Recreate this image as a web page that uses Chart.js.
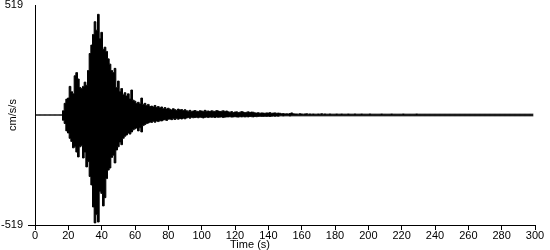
<!DOCTYPE html>
<html>
<head>
<meta charset="utf-8">
<script src="https://cdn.jsdelivr.net/npm/chart.js@4.4.0/dist/chart.umd.min.js"></script>
<style>
  html, body { margin: 0; padding: 0; background: #fff; }
  canvas { display: block; }
</style>
</head>
<body>
<canvas id="accelChart" width="550" height="250"></canvas>
<script>
// peak acceleration per second (cm/s/s): upper and lower envelope
const accelTop = [
  0,0,0,0,0,0,0,0,0,0,0,0,0,0,0,0,0,
  20,55,75,80,135,110,100,185,200,170,
  130,125,135,155,140,210,290,330,380,440,
  400,475,360,390,310,320,300,265,240,210,
  200,220,130,160,110,125,95,105,90,100,
  75,118,70,65,55,60,52,80,50,55,
  45,50,40,42,38,45,36,40,33,38,
  30,35,28,32,27,24,30,25,22,28,
  24,26,21,25,20,18,22,17,19,21,
  18,16,20,19,17,22,18,19,16,20,
  18,17,21,19,16,18,20,17,19,15,
  13,16,12,14,15,12,13,16,14,11,
  13,15,12,14,13,10,9,11,8,10,
  9,8,10,9,11,8,9,10,8,9,
  8,6,7,5,6,5,7,10,6,5,
  5,4,6,5,4,5,6,4,5,4,
  5,4,4,5,4,6,4,5,4,4,
  5,4,4,4,5,4,4,5,4,4,
  4,5,4,4,4,5,4,4,4,5,
  4,4,4,4,5,4,4,4,4,4,
  4,5,4,4,4,4,4,5,4,4,
  4,4,4,4,5,4,4,4,4,4,
  4,4,5,4,4,4,4,4,4,4,
  4,4,4,4,4,4,4,4,4,4,
  4,4,4,4,4,4,4,4,4,4,
  4,4,4,4,4,4,4,4,4,4,
  4,4,4,4,4,4,4,4,4,4,
  4,4,4,4,4,4,4,4,4,4,
  4,4,4,4,4,4,4,4,4,4,
  4,4,4
];
const accelBottom = [
  0,0,0,0,0,0,0,0,0,0,0,0,0,0,0,0,0,
  -25,-40,-75,-85,-110,-125,-155,-150,-175,-198,
  -150,-145,-203,-175,-245,-220,-290,-330,-434,-509,
  -470,-505,-360,-370,-429,-390,-300,-260,-250,-200,
  -190,-226,-165,-150,-127,-140,-110,-100,-94,-85,
  -90,-80,-70,-65,-61,-75,-60,-80,-50,-45,
  -40,-38,-33,-35,-30,-34,-28,-31,-27,-28,
  -24,-22,-26,-20,-19,-22,-18,-21,-17,-20,
  -16,-19,-15,-18,-14,-12,-15,-11,-13,-12,
  -11,-13,-10,-12,-14,-11,-10,-12,-9,-11,
  -10,-12,-9,-11,-10,-9,-12,-10,-9,-9,
  -8,-10,-9,-8,-9,-10,-8,-9,-8,-9,
  -8,-9,-7,-8,-9,-7,-8,-7,-6,-7,
  -7,-6,-7,-6,-7,-6,-5,-6,-5,-6,
  -4,-4,-5,-4,-4,-4,-5,-4,-4,-4,
  -4,-4,-4,-4,-4,-4,-4,-4,-4,-4,
  -4,-4,-4,-4,-4,-4,-4,-4,-4,-4,
  -4,-4,-4,-4,-4,-4,-4,-4,-4,-4,
  -4,-4,-4,-4,-4,-4,-4,-4,-4,-4,
  -4,-4,-4,-4,-4,-4,-4,-4,-4,-4,
  -4,-4,-4,-4,-4,-4,-4,-4,-4,-4,
  -4,-4,-4,-4,-4,-4,-4,-4,-4,-4,
  -4,-4,-4,-4,-4,-4,-4,-4,-4,-4,
  -4,-4,-4,-4,-4,-4,-4,-4,-4,-4,
  -4,-4,-4,-4,-4,-4,-4,-4,-4,-4,
  -4,-4,-4,-4,-4,-4,-4,-4,-4,-4,
  -4,-4,-4,-4,-4,-4,-4,-4,-4,-4,
  -4,-4,-4,-4,-4,-4,-4,-4,-4,-4,
  -4,-4,-4,-4,-4,-4,-4,-4,-4,-4,
  -4,-4,-4
];
const timeTicks = [0,20,40,60,80,100,120,140,160,180,200,220,240,260,280,300];
const accelTicks = [-519, 519];
const xTitle = 'Time (s)';
const yTitle = 'cm/s/s';

(function () {
  const font = { family: '"Liberation Sans", Arial, sans-serif', size: 11 };

  const topPts = accelTop.map((v, i) => ({ x: i, y: v }));
  const botPts = accelBottom.map((v, i) => ({ x: i, y: v }));

  function envelope(data) {
    return {
      data,
      borderColor: '#000',
      backgroundColor: '#000',
      borderWidth: 1,
      pointRadius: 0,
      stepped: 'middle',
      fill: 'origin',
    };
  }

  const axisTitles = {
    id: 'axisTitles',
    afterDraw(chart) {
      const ctx = chart.ctx;
      const area = chart.chartArea;
      ctx.save();
      ctx.fillStyle = '#000';
      ctx.font = font.size + 'px ' + font.family;
      ctx.textAlign = 'center';
      ctx.textBaseline = 'middle';
      ctx.fillText(xTitle, 250, 245);
      ctx.translate(13, (area.top + area.bottom) / 2);
      ctx.rotate(-Math.PI / 2);
      ctx.fillText(yTitle, 0, 0);
      ctx.restore();
    },
  };

  new Chart(document.getElementById('accelChart').getContext('2d'), {
    type: 'line',
    data: { datasets: [envelope(topPts), envelope(botPts)] },
    options: {
      responsive: false,
      animation: false,
      layout: { padding: { top: 5, right: 15, left: 0, bottom: 0 } },
      plugins: { legend: { display: false }, tooltip: { enabled: false } },
      scales: {
        x: {
          type: 'linear',
          min: 0,
          max: 300,
          afterBuildTicks: (s) => { s.ticks = timeTicks.map((v) => ({ value: v })); },
          afterFit: (s) => { s.height = 25; s.paddingLeft = 0; s.paddingRight = 0; },
          ticks: { color: '#000', font, padding: -1, maxRotation: 0, autoSkip: false },
          grid: { drawOnChartArea: false, tickLength: 5, color: '#000' },
          border: { color: '#000' },
        },
        y: {
          type: 'linear',
          min: -519,
          max: 519,
          afterBuildTicks: (s) => { s.ticks = accelTicks.map((v) => ({ value: v })); },
          afterFit: (s) => { s.width = 35; s.paddingTop = 0; s.paddingBottom = 0; },
          ticks: { color: '#000', font, padding: 5 },
          grid: {
            drawOnChartArea: false,
            tickLength: 7,
            color: (c) => (c.tick && c.tick.value < 0 ? '#000' : 'rgba(0,0,0,0)'),
          },
          border: { color: '#000' },
        },
      },
    },
    plugins: [axisTitles],
  });
})();
</script>
</body>
</html>
